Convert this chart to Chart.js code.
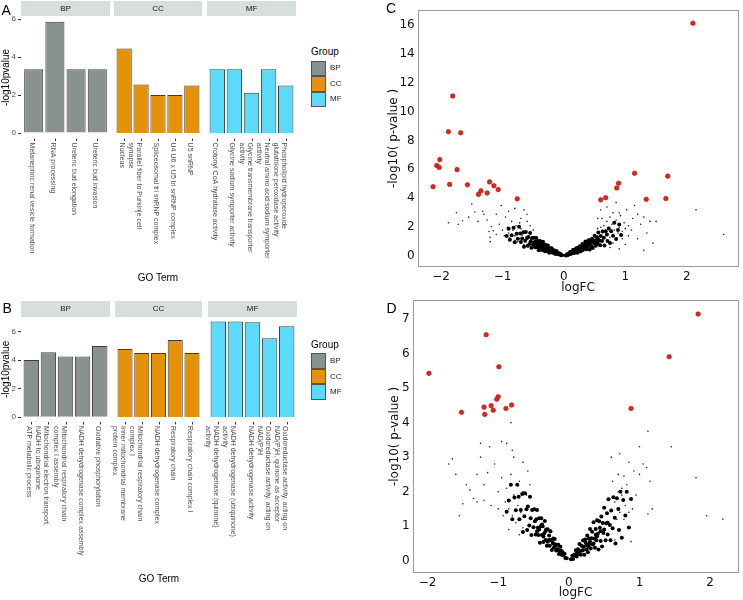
<!DOCTYPE html>
<html>
<head>
<meta charset="utf-8">
<script src="https://cdn.jsdelivr.net/npm/chart.js@4.4.1/dist/chart.umd.min.js"></script>
<style>
html,body{margin:0;padding:0;background:#fff;}
#fig{position:relative;width:743px;height:600px;overflow:hidden;}
</style>
</head>
<body>
<div id="fig"></div>
<script>
// ---- panel A : GO terms ----
const aBpTerms=["Metanephric renal vesicle formation","RNA processing","Ureteric bud elongation","Ureteric bud invasion"];
const aBpVals=[3.35,5.85,3.35,3.35];
const aCcTerms=["Nucleus","Parallel fiber to Purkinje cell\nsynapse","Spliceosomal tri snRNP complex","U4 U6 x U5 tri snRNP complex","U5 snRNP"];
const aCcVals=[4.45,2.55,2.0,2.0,2.5];
const aMfTerms=["Crotonyl CoA hydratase activity","Glycine sodium symporter activity","Glycine transmembrane transporter\nactivity","Neutral amino acid:sodium symporter\nactivity","Phospholipid hydroperoxide\nglutathione peroxidase activity"];
const aMfVals=[3.35,3.35,2.12,3.35,2.5];

// ---- panel B : GO terms ----
const bBpTerms=["ATP metabolic process","Mitochondrial electron transport,\nNADH to ubiquinone","Mitochondrial respiratory chain\ncomplex I assembly","NADH dehydrogenase complex assembly","Oxidative phosphorylation"];
const bBpVals=[4.0,4.54,4.24,4.24,4.99];
const bCcTerms=["Inner mitochondrial membrane\nprotein complex","Mitochondrial respiratory chain\ncomplex I","NADH dehydrogenase complex","Respiratory chain","Respiratory chain complex I"];
const bCcVals=[4.78,4.5,4.5,5.41,4.5];
const bMfTerms=["NADH dehydrogenase (quinone)\nactivity","NADH dehydrogenase (ubiquinone)\nactivity","NADH dehydrogenase activity","Oxidoreductase activity, acting on\nNAD(P)H","Oxidoreductase activity, acting on\nNAD(P)H, quinone as acceptor"];
const bMfVals=[6.69,6.69,6.64,5.52,6.36];

const groups=["BP","CC","MF"];
const groupColors=["#889291","#e69208","#5cdaf9"];

// ---- panel C : volcano (logFC, -log10 p) ----
const cRed=[[2.10,16.1],[-1.81,11.07],[-1.88,8.6],[-1.68,8.53],[-2.02,6.67],[-2.07,6.27],[-2.03,6.13],[-1.74,5.98],[-2.13,4.8],[-1.86,4.96],[-1.57,4.93],[-1.21,5.13],[-1.14,4.87],[-1.07,4.6],[-1.35,4.51],[-1.39,4.27],[-1.25,4.36],[-0.76,3.96],[0.60,3.89],[0.68,4.04],[0.86,4.71],[0.89,5.04],[1.15,5.73],[1.69,5.53],[1.34,3.93],[1.66,3.98]];
const cCore=[[-0.03,0.06],[-0.05,0.06],[-0.06,0.17],[-0.08,0.13],[-0.09,0.22],[-0.1,0.14],[-0.11,0.24],[-0.12,0.35],[-0.13,0.23],[-0.14,0.15],[-0.15,0.39],[-0.16,0.27],[-0.17,0.39],[-0.18,0.23],[-0.19,0.4],[-0.2,0.54],[-0.21,0.32],[-0.22,0.55],[-0.23,0.44],[-0.24,0.24],[-0.25,0.5],[-0.26,0.73],[-0.27,0.35],[-0.28,0.62],[-0.29,0.49],[-0.3,0.78],[-0.31,0.34],[-0.32,0.77],[-0.33,0.5],[-0.34,0.99],[-0.35,0.67],[-0.36,0.43],[-0.37,0.85],[-0.38,0.61],[-0.39,1.05],[-0.4,0.84],[-0.41,0.41],[-0.42,1.05],[-0.43,0.6],[-0.44,0.79],[-0.45,1.26],[-0.46,1.01],[-0.47,0.61],[-0.48,0.96],[-0.49,1.27],[-0.5,0.8],[-0.52,1.25],[-0.53,0.58],[-0.54,1.03],[-0.55,1.6],[-0.56,0.84],[-0.58,1.33],[-0.59,0.71],[-0.6,1.26],[-0.62,1.67],[-0.63,1.07],[-0.65,0.65],[-0.66,1.65],[-0.68,1.22],[-0.7,0.98],[-0.71,1.56],[-0.73,2.04],[-0.75,1.2],[-0.77,1.54],[-0.8,0.96],[-0.82,1.97],[-0.85,1.45],[-0.88,1.14],[-0.9,1.89],[-0.93,1.4],
[-0.2,0.3],[-0.27,0.55],[-0.33,0.75],[-0.15,0.25],[-0.22,0.42],[-0.36,0.58],[-0.3,0.45],[-0.42,0.72],[-0.38,0.95],[-0.45,0.7],
[0.03,0.045],[0.05,0.13],[0.06,0.07],[0.08,0.18],[0.09,0.16],[0.1,0.28],[0.11,0.15],[0.12,0.25],[0.13,0.32],[0.14,0.22],[0.15,0.44],[0.16,0.3],[0.17,0.22],[0.18,0.42],[0.19,0.32],[0.2,0.54],[0.21,0.41],[0.22,0.24],[0.23,0.58],[0.24,0.51],[0.25,0.37],[0.26,0.68],[0.27,0.32],[0.28,0.63],[0.29,0.51],[0.3,0.84],[0.31,0.43],[0.32,0.66],[0.33,0.8],[0.34,0.54],[0.35,1.02],[0.36,0.67],[0.37,0.48],[0.38,0.89],[0.39,0.65],[0.4,1.09],[0.41,0.8],[0.42,0.46],[0.43,1.09],[0.44,0.94],[0.45,0.67],[0.46,1.21],[0.47,0.56],[0.48,1.08],[0.49,0.87],[0.5,1.41],[0.52,0.72],[0.53,1.09],[0.54,1.31],[0.55,0.87],[0.56,1.63],[0.58,1.08],[0.59,0.76],[0.6,1.4],[0.62,1.04],[0.63,1.71],[0.65,1.27],[0.66,0.73],[0.68,1.72],[0.7,1.5],[0.71,1.05],[0.73,1.91],[0.75,0.9],[0.77,1.72],[0.8,1.41],[0.82,2.3],[0.85,1.18],[0.88,1.8],[0.9,2.19],[0.93,1.46],
[0.2,0.35],[0.25,0.5],[0.3,0.6],[0.35,0.55],[0.4,0.75],[0.45,0.95],[0.28,0.42],[0.38,1.0],[0.5,1.0],[0.55,1.2]];
const cSparse=[[-0.62,1.7],[-0.65,0.8],[-0.65,1.15],[-0.68,1.45],[-0.7,0.9],[-0.7,1.9],[-0.72,1.2],[-0.75,1.0],[-0.75,1.6],[-0.78,2.1],[-0.8,1.1],[-0.8,1.4],[-0.83,1.8],[-0.85,2.4],[-0.88,1.25],[-0.9,1.6],[-0.92,2.0],[-0.95,2.7],[-0.97,1.4],[-1.0,1.8],[-1.02,3.5],[-0.9,3.1],[-1.05,2.2],[-1.1,1.5],[-1.15,1.75],[-1.2,1.3],[-1.22,1.7],[-1.25,2.5],[-1.3,2.9],[-1.32,3.1],[-1.4,2.4],[-1.45,3.05],[-1.5,3.6],[-1.55,2.7],[-1.65,2.45],[-1.72,2.2],[-1.75,3.0],[-1.88,2.3],[-1.1,2.9],[-0.8,3.3],[-0.6,2.9],[-0.65,3.2],[-1.18,2.05],[-0.55,2.1],[-0.6,2.4],[-0.7,2.6],[-0.5,1.8],[-0.82,0.95],[-0.58,0.65],[-0.72,2.3],[-1.2,1.0],
[0.65,2.1],[0.68,1.6],[0.7,2.4],[0.7,1.15],[0.72,1.9],[0.75,2.7],[0.75,1.3],[0.78,2.2],[0.8,1.5],[0.8,3.0],[0.82,1.8],[0.85,2.5],[0.88,1.6],[0.9,2.0],[0.92,2.8],[0.95,1.7],[0.98,2.3],[1.0,1.9],[1.02,3.2],[1.05,2.1],[1.1,1.8],[1.12,2.6],[0.55,2.6],[0.6,3.2],[0.7,3.4],[0.85,3.7],[1.2,2.9],[1.25,2.2],[1.3,2.7],[1.35,1.6],[1.4,2.4],[1.45,0.9],[1.5,2.4],[1.2,1.2],[1.3,0.4],[1.05,1.4],[0.9,0.5],[2.15,3.2],[2.6,1.5],[1.15,3.5],[0.6,2.0],[0.55,1.9],[0.66,0.7],[0.8,0.9],[0.75,0.6],[0.95,1.2],[1.0,0.8],[0.62,2.6],[0.9,3.0]];

// ---- panel D : volcano ----
const dRed=[[1.83,7.15],[1.42,5.91],[0.88,4.41],[-1.17,6.55],[-0.99,5.62],[-1.98,5.43],[-1.52,4.30],[-1.00,4.75],[-1.02,4.68],[-1.20,4.45],[-1.10,4.49],[-1.19,4.24],[-1.07,4.36],[-0.89,4.41],[-0.81,4.51]];
const dCore=[[-0.03,0.07],[-0.05,0.075],[-0.06,0.2],[-0.08,0.16],[-0.09,0.25],[-0.1,0.17],[-0.11,0.29],[-0.12,0.4],[-0.13,0.28],[-0.14,0.19],[-0.15,0.46],[-0.16,0.33],[-0.17,0.46],[-0.18,0.29],[-0.19,0.47],[-0.2,0.63],[-0.21,0.38],[-0.22,0.64],[-0.23,0.52],[-0.24,0.31],[-0.25,0.6],[-0.26,0.85],[-0.27,0.43],[-0.28,0.73],[-0.29,0.59],[-0.3,0.91],[-0.31,0.43],[-0.32,0.9],[-0.33,0.6],[-0.34,1.15],[-0.35,0.79],[-0.36,0.54],[-0.37,1.0],[-0.38,0.74],[-0.39,1.23],[-0.4,1.0],[-0.41,0.52],[-0.42,1.23],[-0.43,0.74],[-0.44,0.95],[-0.45,1.47],[-0.46,1.2],[-0.47,0.76],[-0.48,1.14],[-0.49,1.49],[-0.5,0.97],[-0.52,1.47],[-0.53,0.74],[-0.54,1.23],[-0.55,1.85],[-0.56,1.02],[-0.58,1.57],[-0.59,0.89],[-0.6,1.49],[-0.62,1.95],[-0.63,1.29],[-0.65,0.83],[-0.66,1.93],[-0.68,1.47],[-0.7,1.2],[-0.71,1.85],[-0.73,2.2],[-0.75,1.46],[-0.77,1.83],[-0.8,1.2],[-0.82,2.2],[-0.85,1.74],[-0.88,1.42],
[-0.2,0.4],[-0.27,0.6],[-0.33,0.85],[-0.15,0.3],[-0.22,0.5],[-0.36,0.7],[-0.3,0.55],[-0.42,0.9],[-0.38,1.05],[-0.45,0.85],
[0.03,0.04],[0.05,0.14],[0.06,0.05],[0.08,0.18],[0.09,0.15],[0.1,0.3],[0.11,0.12],[0.12,0.24],[0.13,0.33],[0.14,0.19],[0.15,0.48],[0.16,0.28],[0.17,0.17],[0.18,0.43],[0.19,0.29],[0.2,0.58],[0.21,0.4],[0.22,0.17],[0.23,0.61],[0.24,0.52],[0.25,0.32],[0.26,0.73],[0.27,0.24],[0.28,0.64],[0.29,0.48],[0.3,0.92],[0.31,0.35],[0.32,0.65],[0.33,0.84],[0.34,0.47],[0.35,1.11],[0.36,0.64],[0.37,0.37],[0.38,0.92],[0.39,0.59],[0.4,1.17],[0.41,0.78],[0.42,0.32],[0.43,1.14],[0.44,0.95],[0.45,0.57],[0.46,1.28],[0.47,0.41],[0.48,1.09],[0.49,0.8],[0.5,1.53],[0.52,0.59],[0.53,1.08],[0.54,1.37],[0.55,0.76],[0.56,1.78],[0.58,1.03],[0.59,0.59],[0.6,1.45],[0.62,0.94],[0.63,1.84],[0.65,1.24],[0.66,0.5],[0.68,1.81],[0.7,1.5],[0.71,0.89],[0.73,2.0],[0.75,0.66],[0.77,1.76],[0.8,1.31],[0.82,2.0],[0.85,0.96],[0.88,1.79],
[0.2,0.3],[0.25,0.45],[0.3,0.55],[0.35,0.5],[0.4,0.7],[0.45,0.85],[0.28,0.4],[0.38,0.75],[0.5,0.9],[0.55,1.1]];
const dSparse=[[-0.65,2.0],[-0.65,0.95],[-0.68,1.4],[-0.7,2.3],[-0.72,1.6],[-0.75,1.1],[-0.78,1.9],[-0.8,1.3],[-0.82,2.5],[-0.85,1.5],[-0.88,2.1],[-0.9,1.7],[-0.93,1.3],[-0.95,2.4],[-1.0,2.0],[-1.05,2.8],[-1.1,1.6],[-1.15,2.55],[-1.2,1.75],[-1.25,3.0],[-1.3,2.5],[-1.35,1.8],[-1.4,2.05],[-1.45,2.2],[-1.5,1.65],[-1.55,1.3],[-1.6,2.5],[-1.65,2.95],[-1.7,2.8],[-1.25,3.4],[-0.95,3.45],[-0.88,3.4],[-0.8,3.2],[-0.78,3.0],[-0.65,2.85],[-0.58,2.6],[-1.12,3.3],[-1.2,2.2],[-0.82,4.0],[-1.0,1.5],[-0.55,2.2],[-0.6,1.9],[-0.7,0.75],[-0.85,0.9],[-1.3,1.7],
[0.65,1.7],[0.68,1.2],[0.7,2.0],[0.72,1.4],[0.75,1.9],[0.78,1.2],[0.8,1.6],[0.82,2.2],[0.85,1.4],[0.88,1.8],[0.9,1.5],[0.65,0.6],[0.75,0.7],[0.7,2.5],[0.78,2.45],[0.85,2.85],[0.92,2.6],[1.0,3.3],[1.05,2.8],[1.12,3.75],[1.1,2.7],[1.15,2.3],[1.18,1.5],[1.12,1.35],[0.95,1.9],[0.6,3.0],[0.72,3.1],[1.45,3.3],[1.8,2.4],[1.95,1.3],[2.18,1.2],[0.88,0.55],[0.75,2.1],[1.0,2.5],[0.58,1.8],[0.62,2.3]];

const fig=document.getElementById('fig');
const SANS='"Liberation Sans", Arial, sans-serif';
const DJV='"DejaVu Sans", sans-serif';

function put(tag,css,txt){
  const e=document.createElement(tag);
  e.style.cssText='position:absolute;'+css;
  if(txt!=null) e.textContent=txt;
  fig.appendChild(e);
  return e;
}
function canvasAt(l,t,w,h){
  const c=put('canvas',`left:${l}px;top:${t}px;width:${w}px;height:${h}px;`);
  c.width=w;c.height=h;
  return c;
}
// text centred vertically on y; anchor start or middle on x
function label(txt,x,y,size,anchor,color,family){
  const tx=anchor==='start'?'0':'-50%';
  return put('div',`left:${x}px;top:${y}px;font:${size}px ${family||SANS};line-height:1;white-space:nowrap;color:${color||'#000'};transform:translate(${tx},-50%);`,txt);
}

// rotated GO term labels under each bar (read top to bottom)
const goLabels={
  id:'goLabels',
  afterDraw(ch,args,opts){
    const ctx=ch.ctx, xs=ch.scales.x, b=ch.chartArea.bottom;
    ctx.save();
    ctx.strokeStyle='#333';ctx.lineWidth=1;
    ctx.fillStyle='#4d4d4d';
    ctx.font='7px '+SANS;
    ctx.textBaseline='top';ctx.textAlign='left';
    opts.terms.forEach((t,i)=>{
      const x=Math.round(xs.getPixelForValue(i))+0.5;
      ctx.beginPath();ctx.moveTo(x,b);ctx.lineTo(x,b+2.5);ctx.stroke();
      ctx.save();
      ctx.translate(x+1,b+4);
      ctx.rotate(Math.PI/2);
      t.split('\n').forEach((ln,k)=>ctx.fillText(ln,0,k*8.3));
      ctx.restore();
    });
    ctx.restore();
  }
};

function facet(p,f,i){
  const first=i===0, axisW=first?21:0, padL=first?0:24;
  const cl=f.left-axisW-padL, cw=f.right-cl;
  const c=canvasAt(cl,p.ctop,cw,p.ch);
  new Chart(c,{
    type:'bar',
    data:{datasets:[{data:f.vals.map((v,k)=>({x:k,y:v})),backgroundColor:f.color,borderColor:'#3c3c3c',borderWidth:1,barPercentage:0.9,categoryPercentage:1}]},
    options:{
      responsive:false,animation:false,events:[],
      layout:{padding:{left:padL,right:0,top:p.top-p.ctop,bottom:p.ctop+p.ch-p.bottom}},
      plugins:{legend:{display:false},tooltip:{enabled:false},goLabels:{terms:f.terms}},
      scales:{
        x:{type:'linear',display:false,offset:false,min:-0.6,max:f.vals.length-0.4,ticks:{stepSize:1,includeBounds:false}},
        y:{display:first,min:-0.05*p.yMax,max:1.05*p.yMax,
          afterFit:s=>{s.width=axisW;},
          ticks:{stepSize:2,includeBounds:false,padding:2,color:'#4d4d4d',font:{family:SANS,size:8}},
          grid:{drawOnChartArea:false,tickLength:3,color:'#333'},
          border:{display:false},
          title:{display:true,text:'-log10pvalue',color:'#000',font:{family:SANS,size:10},padding:0}}
      }
    },
    plugins:[goLabels]
  });
}

function barPanel(p){
  p.facets.forEach((f,i)=>{
    put('div',`left:${f.left}px;top:${p.stripTop}px;width:${f.right-f.left}px;height:${p.top-p.stripTop}px;background:#d6dfdc;`);
    label(groups[i],(f.left+f.right)/2,(p.stripTop+p.top)/2,8,'middle','#1a1a1a');
    facet(p,f,i);
  });
  label('GO Term',p.goX,p.goY,10,'middle');
  label('Group',311,p.legTop-8.5,10,'start');
  groups.forEach((g,i)=>{
    const y=p.legTop+i*15.5;
    put('div',`left:311px;top:${y}px;width:15px;height:15.5px;box-sizing:border-box;border:1px solid #555;background:${groupColors[i]};`);
    label(g,330,y+7.75,8,'start','#1a1a1a');
  });
}

const minus=v=>String(v).replace('-','\u2212');
const frame={
  id:'frame',
  afterDraw(ch){
    const {left,top,right,bottom}=ch.chartArea, ctx=ch.ctx;
    ctx.save();ctx.strokeStyle='#9a9a9a';ctx.lineWidth=1;
    ctx.strokeRect(Math.round(left)+0.5,Math.round(top)+0.5,Math.round(right-left)-1,Math.round(bottom-top)-1);
    ctx.restore();
  }
};

function volcano(o){
  const c=canvasAt(o.cl,o.ct,o.cw,o.chh);
  const pts=a=>a.map(q=>({x:q[0],y:q[1]}));
  const tickFont={family:DJV,size:12};
  new Chart(c,{
    type:'scatter',
    data:{datasets:[
      {data:pts(o.sparse),pointRadius:0.8,backgroundColor:'#1e1e1e',borderWidth:0},
      {data:pts(o.core),pointRadius:2.0,backgroundColor:'#000',borderWidth:0},
      {data:pts(o.red),pointRadius:2.3,backgroundColor:'#e3241b',borderColor:'#9e1a12',borderWidth:0.6}
    ]},
    options:{
      responsive:false,animation:false,events:[],
      layout:{padding:{top:o.pt,right:o.pr,left:0,bottom:0}},
      plugins:{legend:{display:false},tooltip:{enabled:false}},
      scales:{
        x:{min:o.xmin,max:o.xmax,afterFit:s=>{s.height=o.xh;},
          ticks:{stepSize:1,includeBounds:false,padding:3,color:'#111',font:tickFont,callback:minus,maxRotation:0},
          grid:{display:false,drawTicks:false},border:{display:false},
          title:{display:true,text:'logFC',color:'#111',font:tickFont,padding:{top:0,bottom:o.xtp}}},
        y:{min:o.ymin,max:o.ymax,afterFit:s=>{s.width=o.yw;},
          ticks:{stepSize:o.ystep,includeBounds:false,padding:3,color:'#111',font:tickFont,callback:minus},
          grid:{display:false,drawTicks:false},border:{display:false},
          title:{display:true,text:'-log10( p-value )',color:'#111',font:tickFont,padding:{top:o.ytp,bottom:0}}}
      }
    },
    plugins:[frame]
  });
}

barPanel({stripTop:1,top:16.3,bottom:138.6,ctop:0,ch:290,yMax:Math.max(...aBpVals,...aCcVals,...aMfVals),
  goX:158,goY:278,legTop:60.7,
  facets:[{left:21,right:110,terms:aBpTerms,vals:aBpVals,color:groupColors[0]},
          {left:114,right:202,terms:aCcTerms,vals:aCcVals,color:groupColors[1]},
          {left:207,right:296,terms:aMfTerms,vals:aMfVals,color:groupColors[2]}]});

barPanel({stripTop:301,top:316.8,bottom:422,ctop:290,ch:310,yMax:Math.max(...bBpVals,...bCcVals,...bMfVals),
  goX:159,goY:579,legTop:353.3,
  facets:[{left:21,right:110,terms:bBpTerms,vals:bBpVals,color:groupColors[0]},
          {left:115,right:202,terms:bCcTerms,vals:bCcVals,color:groupColors[1]},
          {left:208,right:297,terms:bMfTerms,vals:bMfVals,color:groupColors[2]}]});

volcano({cl:370,ct:0,cw:373,chh:300,pt:1,pr:3,yw:47.7,xh:33.3,xmin:-2.38,xmax:2.84,ymin:-0.73,ymax:17,ystep:2,ytp:16.8,xtp:5.3,
  red:cRed,core:cCore,sparse:cSparse});
volcano({cl:370,ct:290,cw:373,chh:310,pt:10,pr:2,yw:42.7,xh:27.3,xmin:-2.21,xmax:2.40,ymin:-0.35,ymax:7.55,ystep:1,ytp:17.8,xtp:0,
  red:dRed,core:dCore,sparse:dSparse});

// panel letters
label('A',1.5,10,14,'start');
label('B',2.5,308,14,'start');
label('C',386,8,14,'start');
label('D',386.5,308,14,'start');
</script>
</body>
</html>
